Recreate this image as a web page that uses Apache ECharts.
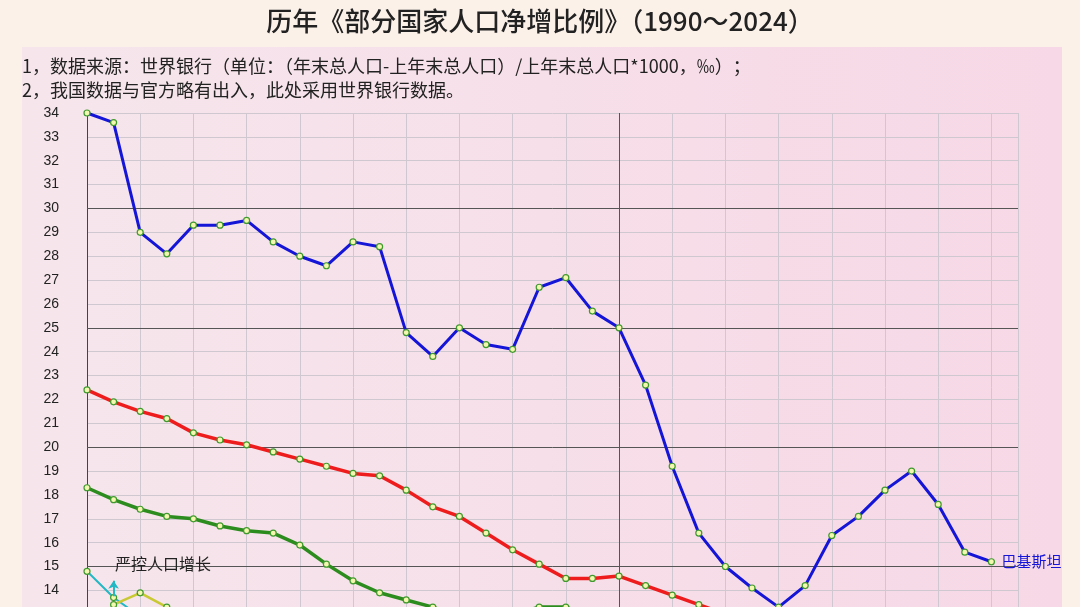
<!DOCTYPE html>
<html><head><meta charset="utf-8">
<script src="https://cdn.jsdelivr.net/npm/echarts@6/dist/echarts.min.js"></script>
<style>html,body{margin:0;padding:0;background:#fbf1e9;overflow:hidden}#c{width:1080px;height:680px}</style>
</head><body><div id="c"></div>
<script>
var chart = echarts.init(document.getElementById('c'));

var years = [];
for (var y = 1990; y <= 2024; y++) years.push(y);

var pakistan = [34.0, 33.6, 29.0, 28.1, 29.3, 29.3, 29.5, 28.6, 28.0, 27.6, 28.6, 28.4, 24.8, 23.8, 25.0, 24.3, 24.1, 26.7, 27.1, 25.7,
    25.0, 22.6, 19.2, 16.4, 15.0, 14.1, 13.3, 14.2, 16.3, 17.1, 18.2, 19.0, 17.6, 15.6, 15.2];
var red = [22.4, 21.9, 21.5, 21.2, 20.6, 20.3, 20.1, 19.8, 19.5, 19.2, 18.9, 18.8, 18.2, 17.5, 17.1, 16.4, 15.7, 15.1, 14.5, 14.5,
    14.6, 14.2, 13.8, 13.4, 13.0];
var green = [18.3, 17.8, 17.4, 17.1, 17.0, 16.7, 16.5, 16.4, 15.9, 15.1, 14.4, 13.9, 13.6, 13.3, 12.9, 12.8, 13.0, 13.3, 13.3, 12.9];
var cyan = [14.8, 13.7, 12.9];
var yellow = [null, 13.4, 13.9, 13.3, 12.9];

function pairs(arr) {
    return arr.map(function (v, i) { return [years[i], v]; });
}

function line(name, data, color, width) {
    return {
        name: name,
        type: 'line',
        data: pairs(data),
        symbol: 'circle',
        symbolSize: 6,
        lineStyle: {color: color, width: width},
        itemStyle: {color: '#f4f7b0', borderColor: '#3f9a2e', borderWidth: 1.2},
        z: 5
    };
}

var pk = line('巴基斯坦', pakistan, '#1515d8', 3);
pk.endLabel = {show: true, formatter: '{a}', color: '#1515d8', fontSize: 15, offset: [2, 0]};
pk.markLine = {
    silent: true, symbol: 'none', label: {show: false},
    lineStyle: {color: '#555', width: 1, type: 'solid'},
    data: [{yAxis: 15}, {yAxis: 20}, {yAxis: 25}, {yAxis: 30}, {xAxis: 2010}]
};

var option = {
    backgroundColor: '#fbf1e9',
    textStyle: {fontFamily: 'Noto Sans CJK SC'},
    graphic: [
        {type: 'rect', left: 22, top: 47, shape: {width: 1040, height: 640},
            style: {fill: new echarts.graphic.LinearGradient(0, 0, 1, 0, [
                {offset: 0, color: '#f6e6ec'}, {offset: 1, color: '#f7d8e6'}])}, z: -10},
        {type: 'text', left: 'center', top: 8, style: {text: '历年《部分国家人口净增比例》（1990～2024）',
            font: '500 26px "Noto Sans CJK SC"', fill: '#222'}},
        {type: 'text', left: 22, top: 57, style: {text: '1，数据来源：世界银行（单位：（年末总人口-上年末总人口）/上年末总人口*1000，‰）；',
            font: '18px "Noto Sans CJK SC"', fill: '#222'}},
        {type: 'text', left: 22, top: 81, style: {text: '2，我国数据与官方略有出入，此处采用世界银行数据。',
            font: '18px "Noto Sans CJK SC"', fill: '#222'}},
        {type: 'text', left: 115, top: 556, style: {text: '严控人口增长', font: '16px "Noto Sans CJK SC"', fill: '#222'}, z: 20}
    ],
    grid: {left: 87, top: 113, width: 931, height: 549},
    xAxis: {
        type: 'value', min: 1990, max: 2025, interval: 2,
        axisLine: {show: false}, axisTick: {show: false}, axisLabel: {show: false},
        splitLine: {lineStyle: {color: '#cfc8d0', width: 1}}
    },
    yAxis: {
        type: 'value', min: 11, max: 34, interval: 1,
        axisLine: {show: true, lineStyle: {color: '#444'}}, axisTick: {show: false},
        axisLabel: {color: '#222', fontSize: 14, margin: 28, fontFamily: 'Liberation Sans'},
        splitLine: {lineStyle: {color: '#cfc8d0', width: 1}}
    },
    series: [
        pk,
        line('red', red, '#ee1c1c', 3.5),
        line('green', green, '#2d8c1e', 3.5),
        line('cyan', cyan, '#22b8c4', 2),
        line('yellow', yellow, '#c9c933', 2.5),
        {
            type: 'lines', coordinateSystem: 'cartesian2d', z: 10,
            data: [{coords: [[1991, 13.75], [1991, 14.4]]}],
            symbol: ['none', 'arrow'], symbolSize: 8,
            lineStyle: {color: '#22b8c4', width: 2, opacity: 1}
        }
    ]
};
chart.setOption(option);
</script>
</body></html>
